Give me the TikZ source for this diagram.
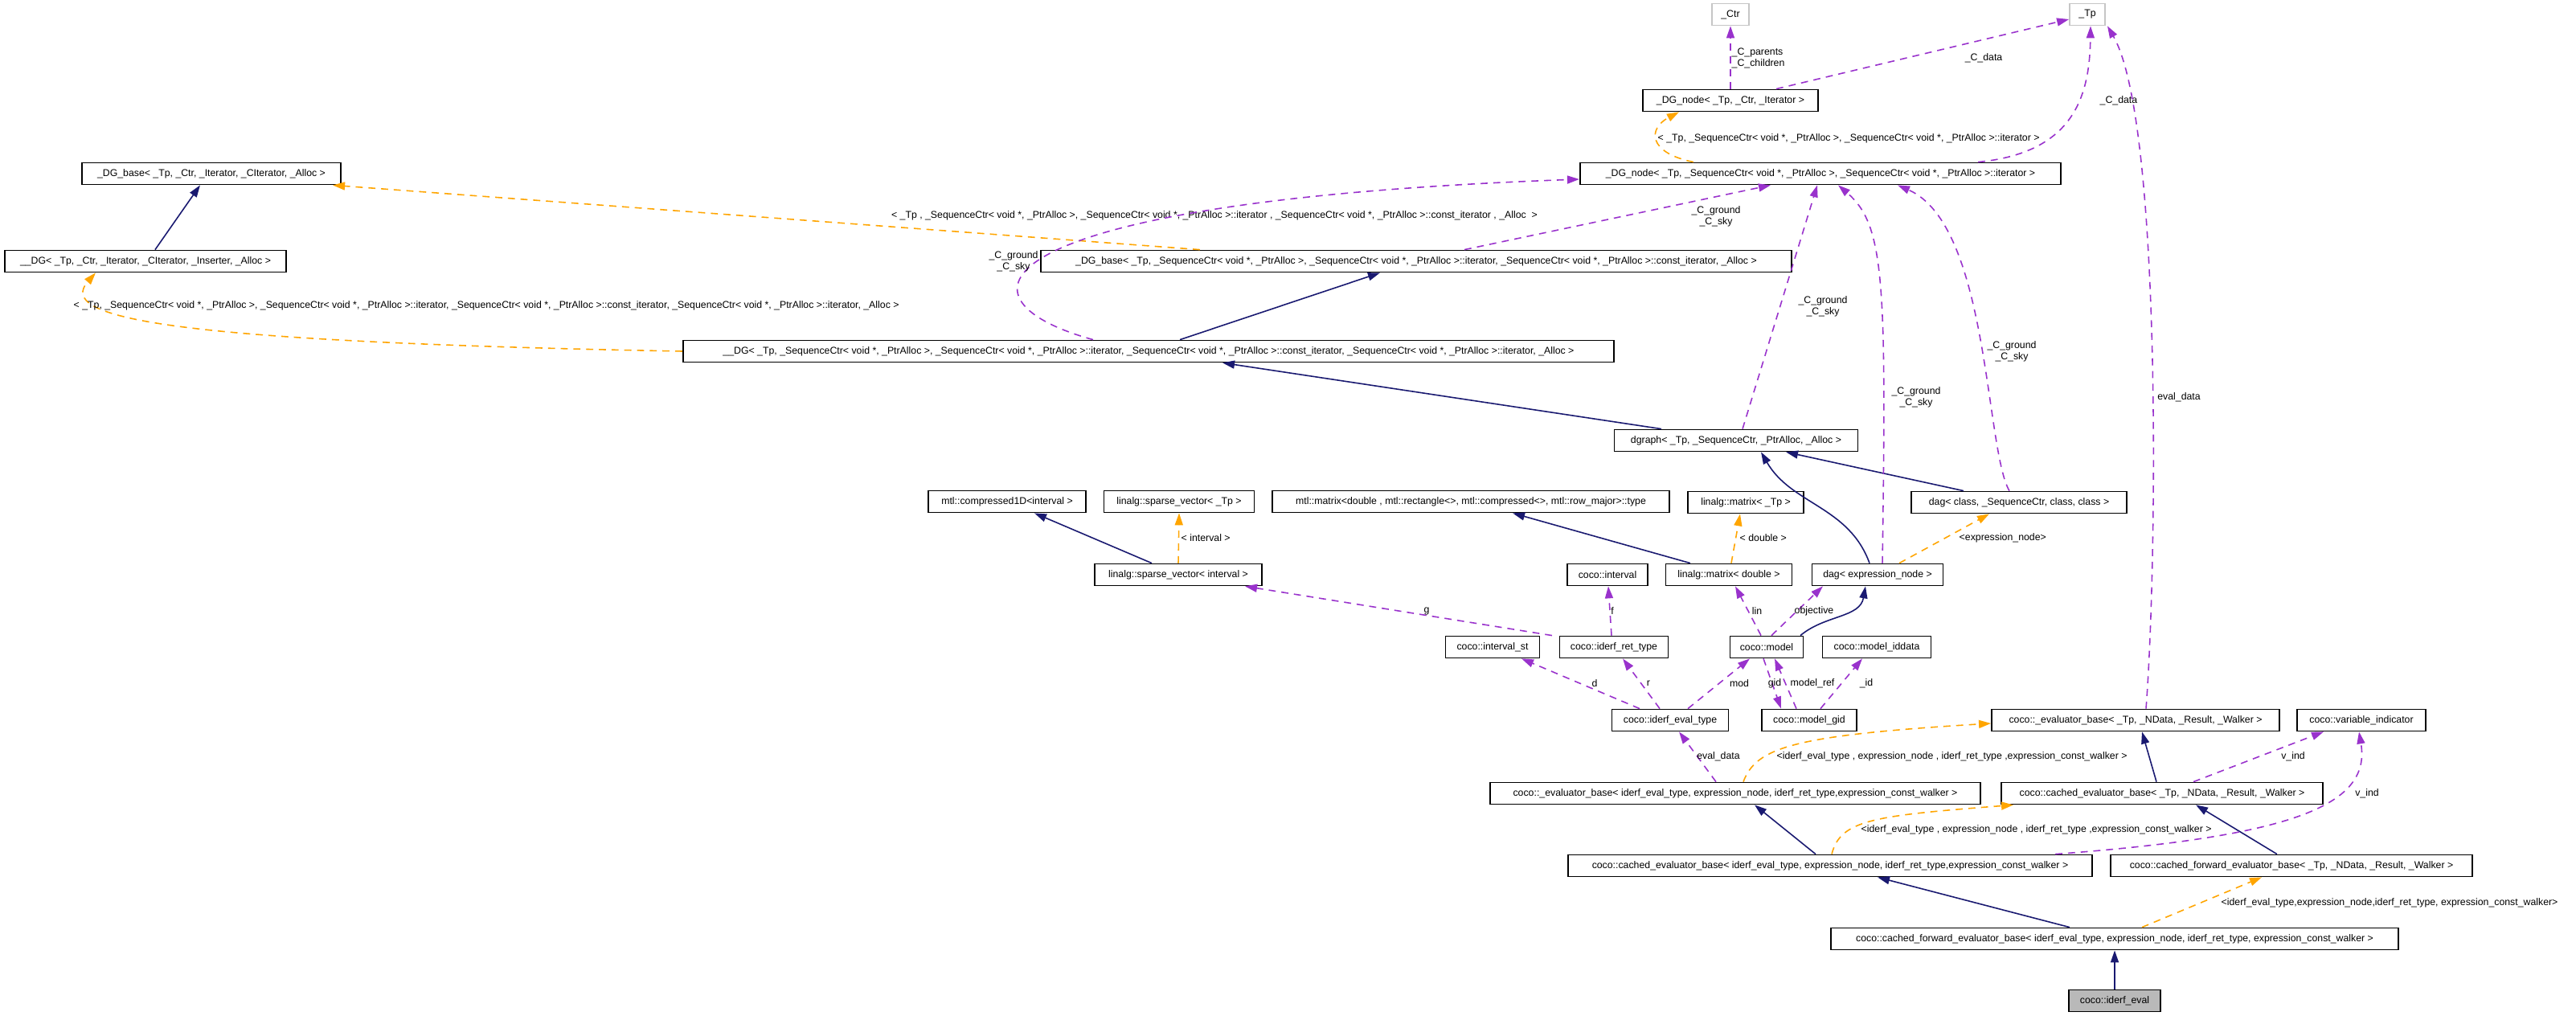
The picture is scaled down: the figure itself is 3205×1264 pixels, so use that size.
\documentclass[tikz,border=0pt]{standalone}
\usepackage{fontspec}
\setmainfont{Liberation Sans}
\usetikzlibrary{arrows.meta}

\definecolor{inhcol}{RGB}{25,25,112}
\definecolor{usecol}{RGB}{153,50,204}
\definecolor{tplcol}{RGB}{255,165,0}

\tikzset{
  box/.style={draw, line width=0.5pt, minimum width=#1, minimum height=0.27cm, inner sep=0pt, font=\fontsize{3.5}{4}\selectfont, fill=white},
  extbox/.style={box=#1, draw=gray!45},
  lbl/.style={inner sep=0pt, font=\fontsize{3.5}{4}\selectfont, align=left},
  inherit/.style={-{Triangle[length=1.5mm,width=1mm]}, draw=inhcol, line width=0.45pt},
  usage/.style={-{Triangle[length=1.5mm,width=1mm]}, draw=usecol, line width=0.45pt, dash pattern=on 2.5pt off 2pt},
  templ/.style={-{Triangle[length=1.5mm,width=1mm]}, draw=tplcol, line width=0.45pt, dash pattern=on 2.5pt off 2pt}
}

\begin{document}
\begin{tikzpicture}[x=0.01cm,y=-0.01cm]
\useasboundingbox (0,0) rectangle (3205,1264);

		\node[extbox=0.46cm] (Ctr) at (2153,18) {\_Ctr};
		\node[extbox=0.44cm] (Tp) at (2597,18) {\_Tp};

		\node[box=2.18cm] (DGnodeGen) at (2153,125) {\_DG\_node< \_Tp, \_Ctr, \_Iterator >};
		\node[box=5.98cm] (DGnodeSeq) at (2265,216) {\_DG\_node< \_Tp, \_SequenceCtr< void *, \_PtrAlloc >, \_SequenceCtr< void *, \_PtrAlloc >::iterator >};
		\node[box=3.22cm] (DGbaseGen) at (263,216) {\_DG\_base< \_Tp, \_Ctr, \_Iterator, \_CIterator, \_Alloc >};
		\node[box=3.50cm] (DGGen) at (181,325) {\_\_DG< \_Tp, \_Ctr, \_Iterator, \_CIterator, \_Inserter, \_Alloc >};
		\node[box=9.34cm] (DGbaseSeq) at (1762,325) {\_DG\_base< \_Tp, \_SequenceCtr< void *, \_PtrAlloc >, \_SequenceCtr< void *, \_PtrAlloc >::iterator, \_SequenceCtr< void *, \_PtrAlloc >::const\_iterator, \_Alloc >};
		\node[box=11.58cm] (DGSeq) at (1429,437) {\_\_DG< \_Tp, \_SequenceCtr< void *, \_PtrAlloc >, \_SequenceCtr< void *, \_PtrAlloc >::iterator, \_SequenceCtr< void *, \_PtrAlloc >::const\_iterator, \_SequenceCtr< void *, \_PtrAlloc >::iterator, \_Alloc >};
		\node[box=3.03cm] (Dgraph) at (2160,548) {dgraph< \_Tp, \_SequenceCtr, \_PtrAlloc, \_Alloc >};

		\node[box=1.96cm] (Compressed) at (1253,624) {mtl::compressed1D<interval >};
		\node[box=1.87cm] (SparseTp) at (1467,624) {linalg::sparse\_vector< \_Tp >};
		\node[box=4.93cm] (MtlMatrix) at (1830,624) {mtl::matrix<double , mtl::rectangle<>, mtl::compressed<>, mtl::row\_major>::type};
		\node[box=1.44cm] (MatrixTp) at (2172,625) {linalg::matrix< \_Tp >};
		\node[box=2.68cm] (DagClass) at (2512,625) {dag< class, \_SequenceCtr, class, class >};

		\node[box=2.08cm] (SparseInt) at (1466,715) {linalg::sparse\_vector< interval >};
		\node[box=1.00cm] (Interval) at (2000,715) {coco::interval};
		\node[box=1.57cm] (MatrixDbl) at (2151,715) {linalg::matrix< double >};
		\node[box=1.63cm] (DagExpr) at (2336,715) {dag< expression\_node >};

		\node[box=1.17cm] (IntervalSt) at (1857,805) {coco::interval\_st};
		\node[box=1.35cm] (RetType) at (2008,805) {coco::iderf\_ret\_type};
		\node[box=0.91cm] (Model) at (2198,805) {coco::model};
		\node[box=1.35cm] (ModelIddata) at (2335,805) {coco::model\_iddata};

		\node[box=1.45cm] (EvalType) at (2078,896) {coco::iderf\_eval\_type};
		\node[box=1.18cm] (ModelGid) at (2251,896) {coco::model\_gid};
		\node[box=3.58cm] (EvalBaseTp) at (2657,896) {coco::\_evaluator\_base< \_Tp, \_NData, \_Result, \_Walker >};
		\node[box=1.60cm] (VarInd) at (2938,896) {coco::variable\_indicator};

		\node[box=6.10cm] (EvalBaseIderf) at (2159,987) {coco::\_evaluator\_base< iderf\_eval\_type, expression\_node, iderf\_ret\_type,expression\_const\_walker >};
		\node[box=4.00cm] (CachedTp) at (2690,987) {coco::cached\_evaluator\_base< \_Tp, \_NData, \_Result, \_Walker >};
		\node[box=6.52cm] (CachedIderf) at (2277,1077) {coco::cached\_evaluator\_base< iderf\_eval\_type, expression\_node, iderf\_ret\_type,expression\_const\_walker >};
		\node[box=4.50cm] (ForwardTp) at (2851,1077) {coco::cached\_forward\_evaluator\_base< \_Tp, \_NData, \_Result, \_Walker >};
		\node[box=7.06cm] (ForwardIderf) at (2631,1168) {coco::cached\_forward\_evaluator\_base< iderf\_eval\_type, expression\_node, iderf\_ret\_type, expression\_const\_walker >};
		\node[box=1.14cm, fill=gray!55] (IderfEval) at (2631,1245) {coco::iderf\_eval};

		%% inheritance
		\draw[inherit] ([xshift=1.2mm]DGGen.north) to ([xshift=-1.4mm]DGbaseGen.south);
		\draw[inherit] ([xshift=3.9mm]DGSeq.north) to ([xshift=-4.5mm]DGbaseSeq.south);
		\draw[inherit] ([xshift=-9.3mm]Dgraph.north) to ([xshift=9.2mm]DGSeq.south);
		\draw[inherit] ([xshift=-1mm]DagExpr.north) to[out=110,in=-60] ([xshift=3.1mm]Dgraph.south);
		\draw[inherit] ([xshift=-6.9mm]DagClass.north) to ([xshift=6.2mm]Dgraph.south);
		\draw[inherit] ([xshift=-4.8mm]MatrixDbl.north) to ([xshift=5.2mm]MtlMatrix.south);
		\draw[inherit] ([xshift=-3.3mm]SparseInt.north) to ([xshift=3.4mm]Compressed.south);
		\draw[inherit] ([xshift=4.2mm]Model.north) to[out=40,in=-100] ([xshift=-1.5mm]DagExpr.south);
		\draw[inherit] (IderfEval) to (ForwardIderf);
		\draw[inherit] ([xshift=-5.6mm]ForwardIderf.north) to ([xshift=5.9mm]CachedIderf.south);
		\draw[inherit] ([xshift=-1.8mm]CachedIderf.north) to ([xshift=2.4mm]EvalBaseIderf.south);
		\draw[inherit] ([xshift=-1.8mm]ForwardTp.north) to ([xshift=4.2mm]CachedTp.south);
		\draw[inherit] ([xshift=-0.7mm]CachedTp.north) to ([xshift=0.8mm]EvalBaseTp.south);

		%% template instances
		\draw[templ] (DGSeq.west) .. controls (200,425) and (70,395) .. ([xshift=-6.2mm]DGGen.south);
		\node[lbl, anchor=west] (lblDG) at (91,380) {< \_Tp, \_SequenceCtr< void *, \_PtrAlloc >, \_SequenceCtr< void *, \_PtrAlloc >::iterator, \_SequenceCtr< void *, \_PtrAlloc >::const\_iterator, \_SequenceCtr< void *, \_PtrAlloc >::iterator, \_Alloc >};
		\draw[templ] ([xshift=-26.9mm]DGbaseSeq.north) to ([xshift=15.1mm]DGbaseGen.south);
		\node[lbl] (lblDGbase) at (1511,268) {< \_Tp , \_SequenceCtr< void *, \_PtrAlloc >, \_SequenceCtr< void *, \_PtrAlloc >::iterator , \_SequenceCtr< void *, \_PtrAlloc >::const\_iterator , \_Alloc \ >};
		\draw[templ] ([xshift=-15.8mm]DGnodeSeq.north) .. controls (2050,190) and (2050,160) .. ([xshift=-6.4mm]DGnodeGen.south);
		\node[lbl, anchor=west] (lblDGnode) at (2062,172) {< \_Tp, \_SequenceCtr< void *, \_PtrAlloc >, \_SequenceCtr< void *, \_PtrAlloc >::iterator >};
		\draw[templ] (SparseInt.north) to (SparseTp.south);
		\node[lbl, anchor=west] (lblSparse) at (1469,669) {< interval >};
		\draw[templ] ([xshift=0.3mm]MatrixDbl.north) to ([xshift=-0.7mm]MatrixTp.south);
		\node[lbl, anchor=west] (lblMatrix) at (2164,669) {< double >};
		\draw[templ] ([xshift=2.7mm]DagExpr.north) to ([xshift=-3.7mm]DagClass.south);
		\node[lbl, anchor=west] (lblDag) at (2437,669) {<expression\_node>};
		\draw[templ] ([xshift=1mm]EvalBaseIderf.north) .. controls (2185,930) and (2230,915) .. ([yshift=-0.4mm]EvalBaseTp.west);
		\node[lbl, anchor=west] (lblEvalBase) at (2210,941) {<iderf\_eval\_type , expression\_node , iderf\_ret\_type ,expression\_const\_walker >};
		\draw[templ] ([xshift=0.2mm]CachedIderf.north) .. controls (2290,1020) and (2330,1015) .. ([xshift=1.6mm]CachedTp.south west);
		\node[lbl, anchor=west] (lblCached) at (2315,1032) {<iderf\_eval\_type , expression\_node , iderf\_ret\_type ,expression\_const\_walker >};
		\draw[templ] ([xshift=3.4mm]ForwardIderf.north) to ([xshift=-3.7mm]ForwardTp.south);
		\node[lbl, anchor=west] (lblForward) at (2763,1123) {<iderf\_eval\_type,expression\_node,iderf\_ret\_type, expression\_const\_walker>};

		%% members
		\draw[usage] (DGnodeGen.north) to (Ctr.south);
		\node[lbl, anchor=west] (lblParents) at (2154,72) {\_C\_parents\\\_C\_children};
		\draw[usage] ([xshift=5.7mm]DGnodeGen.north) to ([yshift=-0.6mm]Tp.west);
		\node[lbl] (lblData1) at (2468,72) {\_C\_data};
		\draw[usage] ([xshift=19.6mm]DGnodeSeq.north) .. controls (2580,190) and (2600,120) .. ([xshift=0.4mm]Tp.south);
		\node[lbl, anchor=west] (lblData2) at (2612,125) {\_C\_data};
		\draw[usage] ([xshift=1.3mm]EvalBaseTp.north) .. controls (2684,700) and (2690,150) .. ([xshift=2.5mm]Tp.south);
		\node[lbl] (lblEvalData1) at (2711,494) {eval\_data};
		\draw[usage] ([xshift=-6.9mm]DGSeq.north) .. controls (1170,370) and (1220,250) .. ([yshift=-0.7mm]DGnodeSeq.west);
		\node[lbl, align=center] (lblGround1) at (1261,325) {\_C\_ground\\\_C\_sky};
		\draw[usage] ([xshift=6mm]DGbaseSeq.north) to ([xshift=-6.2mm]DGnodeSeq.south);
		\node[lbl, align=center] (lblGround2) at (2135,269) {\_C\_ground\\\_C\_sky};
		\draw[usage] ([xshift=0.8mm]Dgraph.north) to ([xshift=-0.4mm]DGnodeSeq.south);
		\node[lbl, align=center] (lblGround3) at (2268,381) {\_C\_ground\\\_C\_sky};
		\draw[usage] ([xshift=0.6mm]DagExpr.north) .. controls (2347,350) and (2345,280) .. ([xshift=2.2mm]DGnodeSeq.south);
		\node[lbl, align=center] (lblGround4) at (2384,494) {\_C\_ground\\\_C\_sky};
		\draw[usage] ([xshift=-1.2mm]DagClass.north) .. controls (2470,560) and (2475,280) .. ([xshift=9.6mm]DGnodeSeq.south);
		\node[lbl, align=center] (lblGround5) at (2503,437) {\_C\_ground\\\_C\_sky};
		\draw[usage] ([xshift=-0.3mm]RetType.north) to ([xshift=0.1mm]Interval.south);
		\node[lbl] (lblF) at (2006,760) {f};
		\draw[usage] ([xshift=-7.7mm]RetType.north) to ([xshift=8.3mm]SparseInt.south);
		\node[lbl] (lblG) at (1775,760) {g};
		\draw[usage] ([xshift=-0.7mm]Model.north) to ([xshift=0.8mm]MatrixDbl.south);
		\node[lbl] (lblLin) at (2186,760) {lin};
		\draw[usage] ([xshift=0.6mm]Model.north) to ([xshift=-6.8mm]DagExpr.south);
		\node[lbl] (lblObjective) at (2257,760) {objective};
		\draw[usage] ([xshift=-3.8mm]EvalType.north) to ([xshift=3.6mm]IntervalSt.south);
		\node[lbl] (lblD) at (1984,850) {d};
		\draw[usage] ([xshift=-1.3mm]EvalType.north) to ([xshift=1.1mm]RetType.south);
		\node[lbl] (lblR) at (2051,850) {r};
		\draw[usage] ([xshift=2.2mm]EvalType.north) to ([xshift=-2.1mm]Model.south);
		\node[lbl] (lblMod) at (2164,850) {mod};
		\draw[usage] ([xshift=-1.6mm]ModelGid.north) to ([xshift=1mm]Model.south);
		\node[lbl] (lblModelRef) at (2255,850) {model\_ref};
		\draw[usage] ([xshift=-0.4mm]Model.south) to ([xshift=-3.5mm]ModelGid.north);
		\node[lbl] (lblGid) at (2208,850) {gid};
		\draw[usage] ([xshift=1.4mm]ModelGid.north) to ([xshift=-1.8mm]ModelIddata.south);
		\node[lbl] (lblId) at (2322,850) {\_id};
		\draw[usage] ([xshift=-2.4mm]EvalBaseIderf.north) to ([xshift=1.1mm]EvalType.south);
		\node[lbl] (lblEvalData2) at (2138,941) {eval\_data};
		\draw[usage] ([xshift=3.9mm]CachedTp.north) to ([xshift=-4.7mm]VarInd.south);
		\node[lbl] (lblVind1) at (2853,941) {v\_ind};
		\draw[usage] ([xshift=28mm]CachedIderf.north) .. controls (2860,1040) and (2950,1000) .. ([xshift=-0.3mm]VarInd.south);
		\node[lbl] (lblVind2) at (2945,987) {v\_ind};
	\end{tikzpicture}
\end{document}
